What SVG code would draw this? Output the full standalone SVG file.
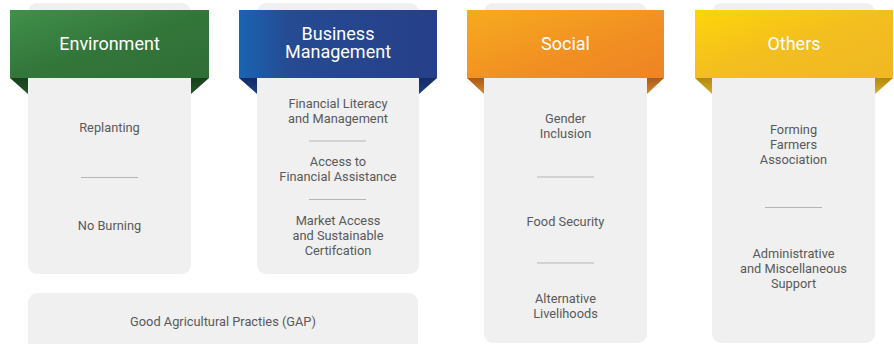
<svg xmlns="http://www.w3.org/2000/svg" width="894" height="344" viewBox="0 0 894 344">
<defs>
<linearGradient id="gGreen" x1="0" y1="0" x2="1" y2="1"><stop offset="0" stop-color="#40904a"/><stop offset="0.5" stop-color="#33763a"/><stop offset="1" stop-color="#2f6e35"/></linearGradient>
<linearGradient id="gBlue" x1="0" y1="0" x2="1" y2="0"><stop offset="0" stop-color="#1a64b2"/><stop offset="0.25" stop-color="#254b93"/><stop offset="1" stop-color="#263f88"/></linearGradient>
<linearGradient id="gOrange" x1="0" y1="0" x2="1" y2="1"><stop offset="0" stop-color="#f6ab1f"/><stop offset="0.6" stop-color="#f18f22"/><stop offset="1" stop-color="#ee8424"/></linearGradient>
<linearGradient id="gYellow" x1="0" y1="0" x2="1" y2="1"><stop offset="0" stop-color="#fed50a"/><stop offset="0.5" stop-color="#f3be1f"/><stop offset="1" stop-color="#efb824"/></linearGradient>
<linearGradient id="fGreen" x1="0" y1="0" x2="0" y2="1"><stop offset="0" stop-color="#183f1c"/><stop offset="1" stop-color="#23552a"/></linearGradient>
<linearGradient id="fBlue" x1="0" y1="0" x2="0" y2="1"><stop offset="0" stop-color="#132c66"/><stop offset="1" stop-color="#1e3f86"/></linearGradient>
<linearGradient id="fOrange" x1="0" y1="0" x2="0" y2="1"><stop offset="0" stop-color="#a95a16"/><stop offset="1" stop-color="#d8892a"/></linearGradient>
<linearGradient id="fYellow" x1="0" y1="0" x2="0" y2="1"><stop offset="0" stop-color="#b08a10"/><stop offset="1" stop-color="#d8af22"/></linearGradient>
</defs>
<style>
.card{fill:#f0f0f0}
.sep{stroke:#b5b5b5;stroke-width:1}
.item{font-family:Roboto,"Open Sans",sans-serif;font-size:12.8px;fill:#59595b;text-anchor:middle}
.title{font-family:Roboto,"Open Sans",sans-serif;font-size:18px;fill:#ffffff;text-anchor:middle}
</style>
<rect width="894" height="344" fill="#ffffff"/>

<g id="environment">
<rect class="card" x="28" y="3" width="163" height="271" rx="9"/>
<polygon points="10,78 28,78 28,94" fill="url(#fGreen)"/>
<polygon points="191,78 209,78 191,94" fill="url(#fGreen)"/>
<rect x="10" y="10" width="199" height="68" fill="url(#gGreen)"/>
<text class="title" x="109.5" y="50">Environment</text>
<text class="item" x="109.5" y="132">Replanting</text>
<line class="sep" x1="81" y1="177.5" x2="138" y2="177.5"/>
<text class="item" x="109.5" y="230">No Burning</text>
</g>

<g id="business">
<rect class="card" x="257" y="3" width="162" height="271" rx="9"/>
<polygon points="239,78 257,78 257,94" fill="url(#fBlue)"/>
<polygon points="419,78 437,78 419,94" fill="url(#fBlue)"/>
<rect x="239" y="10" width="198" height="68" fill="url(#gBlue)"/>
<text class="title" x="338" y="40"><tspan x="338">Business</tspan><tspan x="338" dy="18">Management</tspan></text>
<text class="item" x="338" y="107.5"><tspan x="338">Financial Literacy</tspan><tspan x="338" dy="15">and Management</tspan></text>
<line class="sep" x1="309" y1="141" x2="366" y2="141"/>
<text class="item" x="338" y="166"><tspan x="338">Access to</tspan><tspan x="338" dy="15">Financial Assistance</tspan></text>
<line class="sep" x1="309" y1="199.5" x2="366" y2="199.5"/>
<text class="item" x="338" y="225"><tspan x="338">Market Access</tspan><tspan x="338" dy="15">and Sustainable</tspan><tspan x="338" dy="15">Certifcation</tspan></text>
</g>

<g id="gap">
<rect class="card" x="28" y="293" width="390" height="60" rx="9"/>
<text class="item" x="223" y="325.5">Good Agricultural Practies (GAP)</text>
</g>

<g id="social">
<rect class="card" x="484" y="3" width="163" height="340" rx="9"/>
<polygon points="467,78 484,78 484,94" fill="url(#fOrange)"/>
<polygon points="647,78 664,78 647,94" fill="url(#fOrange)"/>
<rect x="467" y="10" width="197" height="68" fill="url(#gOrange)"/>
<text class="title" x="565.5" y="50">Social</text>
<text class="item" x="565.5" y="123"><tspan x="565.5">Gender</tspan><tspan x="565.5" dy="15">Inclusion</tspan></text>
<line class="sep" x1="537" y1="177" x2="594" y2="177"/>
<text class="item" x="565.5" y="225.5">Food Security</text>
<line class="sep" x1="537" y1="263" x2="594" y2="263"/>
<text class="item" x="565.5" y="303"><tspan x="565.5">Alternative</tspan><tspan x="565.5" dy="15">Livelihoods</tspan></text>
</g>

<g id="others">
<rect class="card" x="712" y="3" width="163" height="340" rx="9"/>
<polygon points="695,78 712,78 712,94" fill="url(#fYellow)"/>
<polygon points="875,78 893,78 875,94" fill="url(#fYellow)"/>
<rect x="695" y="10" width="198" height="68" fill="url(#gYellow)"/>
<text class="title" x="794" y="50">Others</text>
<text class="item" x="793.5" y="134"><tspan x="793.5">Forming</tspan><tspan x="793.5" dy="15">Farmers</tspan><tspan x="793.5" dy="15">Association</tspan></text>
<line class="sep" x1="765" y1="207.5" x2="822" y2="207.5"/>
<text class="item" x="793.5" y="258"><tspan x="793.5">Administrative</tspan><tspan x="793.5" dy="15">and Miscellaneous</tspan><tspan x="793.5" dy="15">Support</tspan></text>
</g>

<g id="connectors"></g>
</svg>
